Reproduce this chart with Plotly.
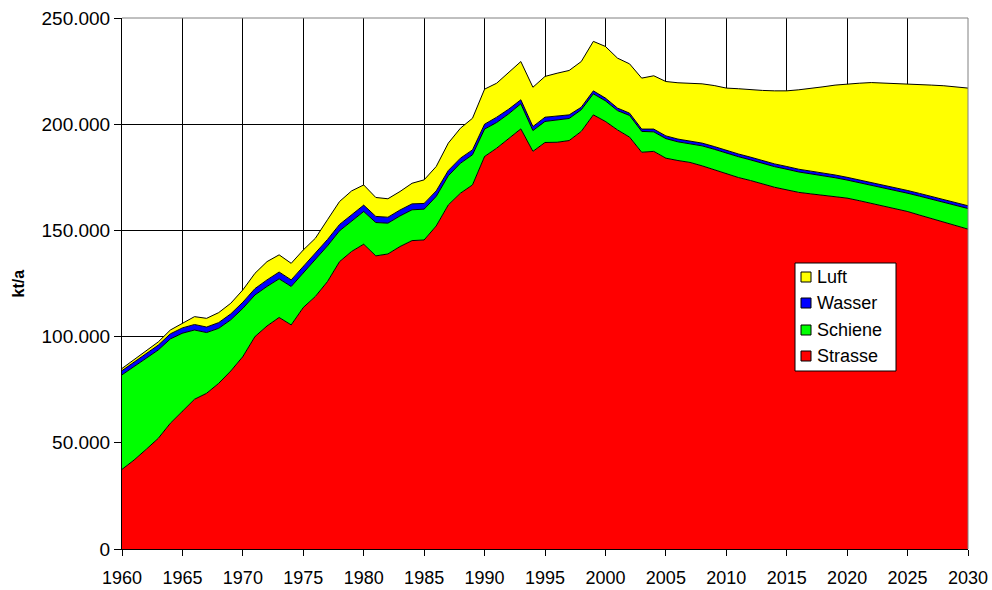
import plotly.graph_objects as go

# Jahre 1960-2030
years = list(range(1960, 2031))

# Gueterverkehr nach Verkehrsträger, kt/a
strasse = [
    37500, 41900, 46900, 52100, 59200, 64700, 70500, 73300, 78000, 83800,
    90600, 100000, 105000, 109000, 105500, 113700, 118900, 125900, 135300, 140100,
    143500, 138000, 138900, 142400, 145200, 145500, 152100, 162000, 167500, 171400,
    184800, 188700, 193400, 197800, 187200, 191400, 191500, 192300, 196600, 204400,
    201300, 197300, 193900, 186800, 187200, 184000, 182900, 182000, 180400, 178500,
    176500, 174900, 173500, 171900, 170300, 169100, 167900, 167200, 166500, 165900,
    165200, 164000, 162800, 161500, 160200, 158900, 157200, 155600, 153900, 152300,
    150600,
]
schiene = [
    44500, 44000, 42900, 41600, 39700, 36900, 32600, 28600, 25900, 24100,
    22700, 19600, 18600, 18200, 18100, 16300, 17200, 16800, 14500, 14100,
    15400, 15700, 14500, 14400, 14500, 14500, 13900, 13700, 14100, 14200,
    12900, 12100, 11500, 11800, 9800, 9900, 10600, 10400, 10200, 9900,
    9700, 9100, 10200, 9800, 9200, 9200, 8800, 8900, 9400, 9700,
    9800, 9800, 9700, 9700, 9700, 9700, 9600, 9400, 9300, 8900,
    8500, 8500, 8400, 8500, 8500, 8600, 8900, 9100, 9400, 9500,
    9700,
]
wasser = [
    2000, 2100, 2200, 2300, 2400, 2500, 2600, 2600, 2700, 2800,
    2900, 3000, 3100, 3200, 3100, 3000, 3000, 3000, 3000, 3000,
    3000, 2900, 2800, 2800, 2800, 2700, 2600, 2500, 2400, 2300,
    2300, 2500, 2200, 1900, 1900, 2000, 1800, 1700, 1200, 1400,
    1300, 1200, 1100, 1100, 1300, 1300, 1300, 1300, 1300, 1300,
    1300, 1300, 1300, 1300, 1300, 1300, 1300, 1300, 1300, 1300,
    1300, 1300, 1300, 1300, 1300, 1300, 1300, 1300, 1300, 1300,
    1300,
]
luft = [
    1000, 1100, 1200, 1500, 1800, 2200, 3700, 4100, 4700, 5000,
    5800, 7200, 8600, 8100, 7800, 7800, 7200, 9300, 10800, 11400,
    9500, 8900, 8700, 8700, 9700, 11100, 11500, 12900, 14100, 14900,
    16500, 16000, 17300, 18000, 18500, 19200, 20100, 20900, 21500, 23300,
    24300, 23500, 23200, 24000, 25100, 25600, 26500, 27100, 27900, 28700,
    29400, 30700, 31700, 33000, 34400, 35600, 37400, 38900, 40500, 42300,
    44000, 45500, 47100, 48100, 49300, 50200, 51500, 52400, 53500, 54500,
    55400,
]

series = [
    ("Strasse", strasse, "#FF0000"),
    ("Schiene", schiene, "#00FF00"),
    ("Wasser", wasser, "#0000FF"),
    ("Luft", luft, "#FFFF00"),
]

y_ticks = [0, 50000, 100000, 150000, 200000, 250000]
y_labels = ["0", "50.000", "100.000", "150.000", "200.000", "250.000"]
x_ticks = list(range(1960, 2031, 5))

FONT = "Arial, 'Liberation Sans', sans-serif"

W, H = 992, 590
ML, MR, MT, MB = 122, 24, 18, 41
PW, PH = W - ML - MR, H - MT - MB


def px_x(p):
    return (p - ML) / PW


def px_y(p):
    return (H - MB - p) / PH


fig = go.Figure()
for name, vals, color in series:
    fig.add_trace(go.Scatter(
        x=years, y=vals, name=name, mode="lines",
        stackgroup="one", fillcolor=color,
        line=dict(color="#000000", width=1),
        showlegend=False,
    ))

shapes = [
    # grauer Rahmen oben und rechts
    dict(type="line", xref="paper", yref="paper", x0=0, x1=1, y0=1, y1=1,
         line=dict(color="#808080", width=1)),
    dict(type="line", xref="paper", yref="paper", x0=1, x1=1, y0=0, y1=1,
         line=dict(color="#808080", width=1)),
    # Legendenrahmen
    dict(type="rect", xref="paper", yref="paper",
         x0=px_x(795), x1=px_x(896), y0=px_y(371), y1=px_y(263),
         fillcolor="white", line=dict(color="#000000", width=1), layer="above"),
]

annotations = [dict(
    text="<b>kt/a</b>", xref="paper", yref="paper",
    x=px_x(18), y=0.5, xanchor="center", yanchor="middle",
    textangle=-90, showarrow=False, font=dict(family=FONT, size=16),
)]

# Legende: oben Luft, unten Strasse
row_y = [277, 303, 330, 356]
for (name, _, color), cy in zip(reversed(series), row_y):
    shapes.append(dict(
        type="rect", xref="paper", yref="paper",
        x0=px_x(801), x1=px_x(811), y0=px_y(cy + 5), y1=px_y(cy - 5),
        fillcolor=color, line=dict(color="#000000", width=1), layer="above",
    ))
    annotations.append(dict(
        text=name, xref="paper", yref="paper",
        x=px_x(815), y=px_y(cy), xanchor="left", yanchor="middle",
        showarrow=False, font=dict(family=FONT, size=18, color="#000000"),
    ))

fig.update_layout(
    width=W, height=H,
    margin=dict(l=ML, r=MR, t=MT, b=MB),
    paper_bgcolor="white", plot_bgcolor="white",
    font=dict(family=FONT, size=18, color="#000000"),
    showlegend=False,
    xaxis=dict(
        range=[1960, 2030], tickmode="array", tickvals=x_ticks,
        showgrid=True, gridcolor="#000000", gridwidth=1,
        showline=True, linecolor="#000000", linewidth=1,
        ticks="outside", ticklen=6, tickcolor="#000000",
        zeroline=False, tickfont=dict(size=18), automargin=False,
        ticklabelstandoff=6,
    ),
    yaxis=dict(
        range=[0, 250000], tickmode="array", tickvals=y_ticks, ticktext=y_labels,
        showgrid=True, gridcolor="#000000", gridwidth=1,
        showline=True, linecolor="#000000", linewidth=1,
        ticks="outside", ticklen=7, tickcolor="#000000",
        zeroline=False, tickfont=dict(size=19), automargin=False,
    ),
    annotations=annotations,
    shapes=shapes,
)

fig.write_html("out.html")
